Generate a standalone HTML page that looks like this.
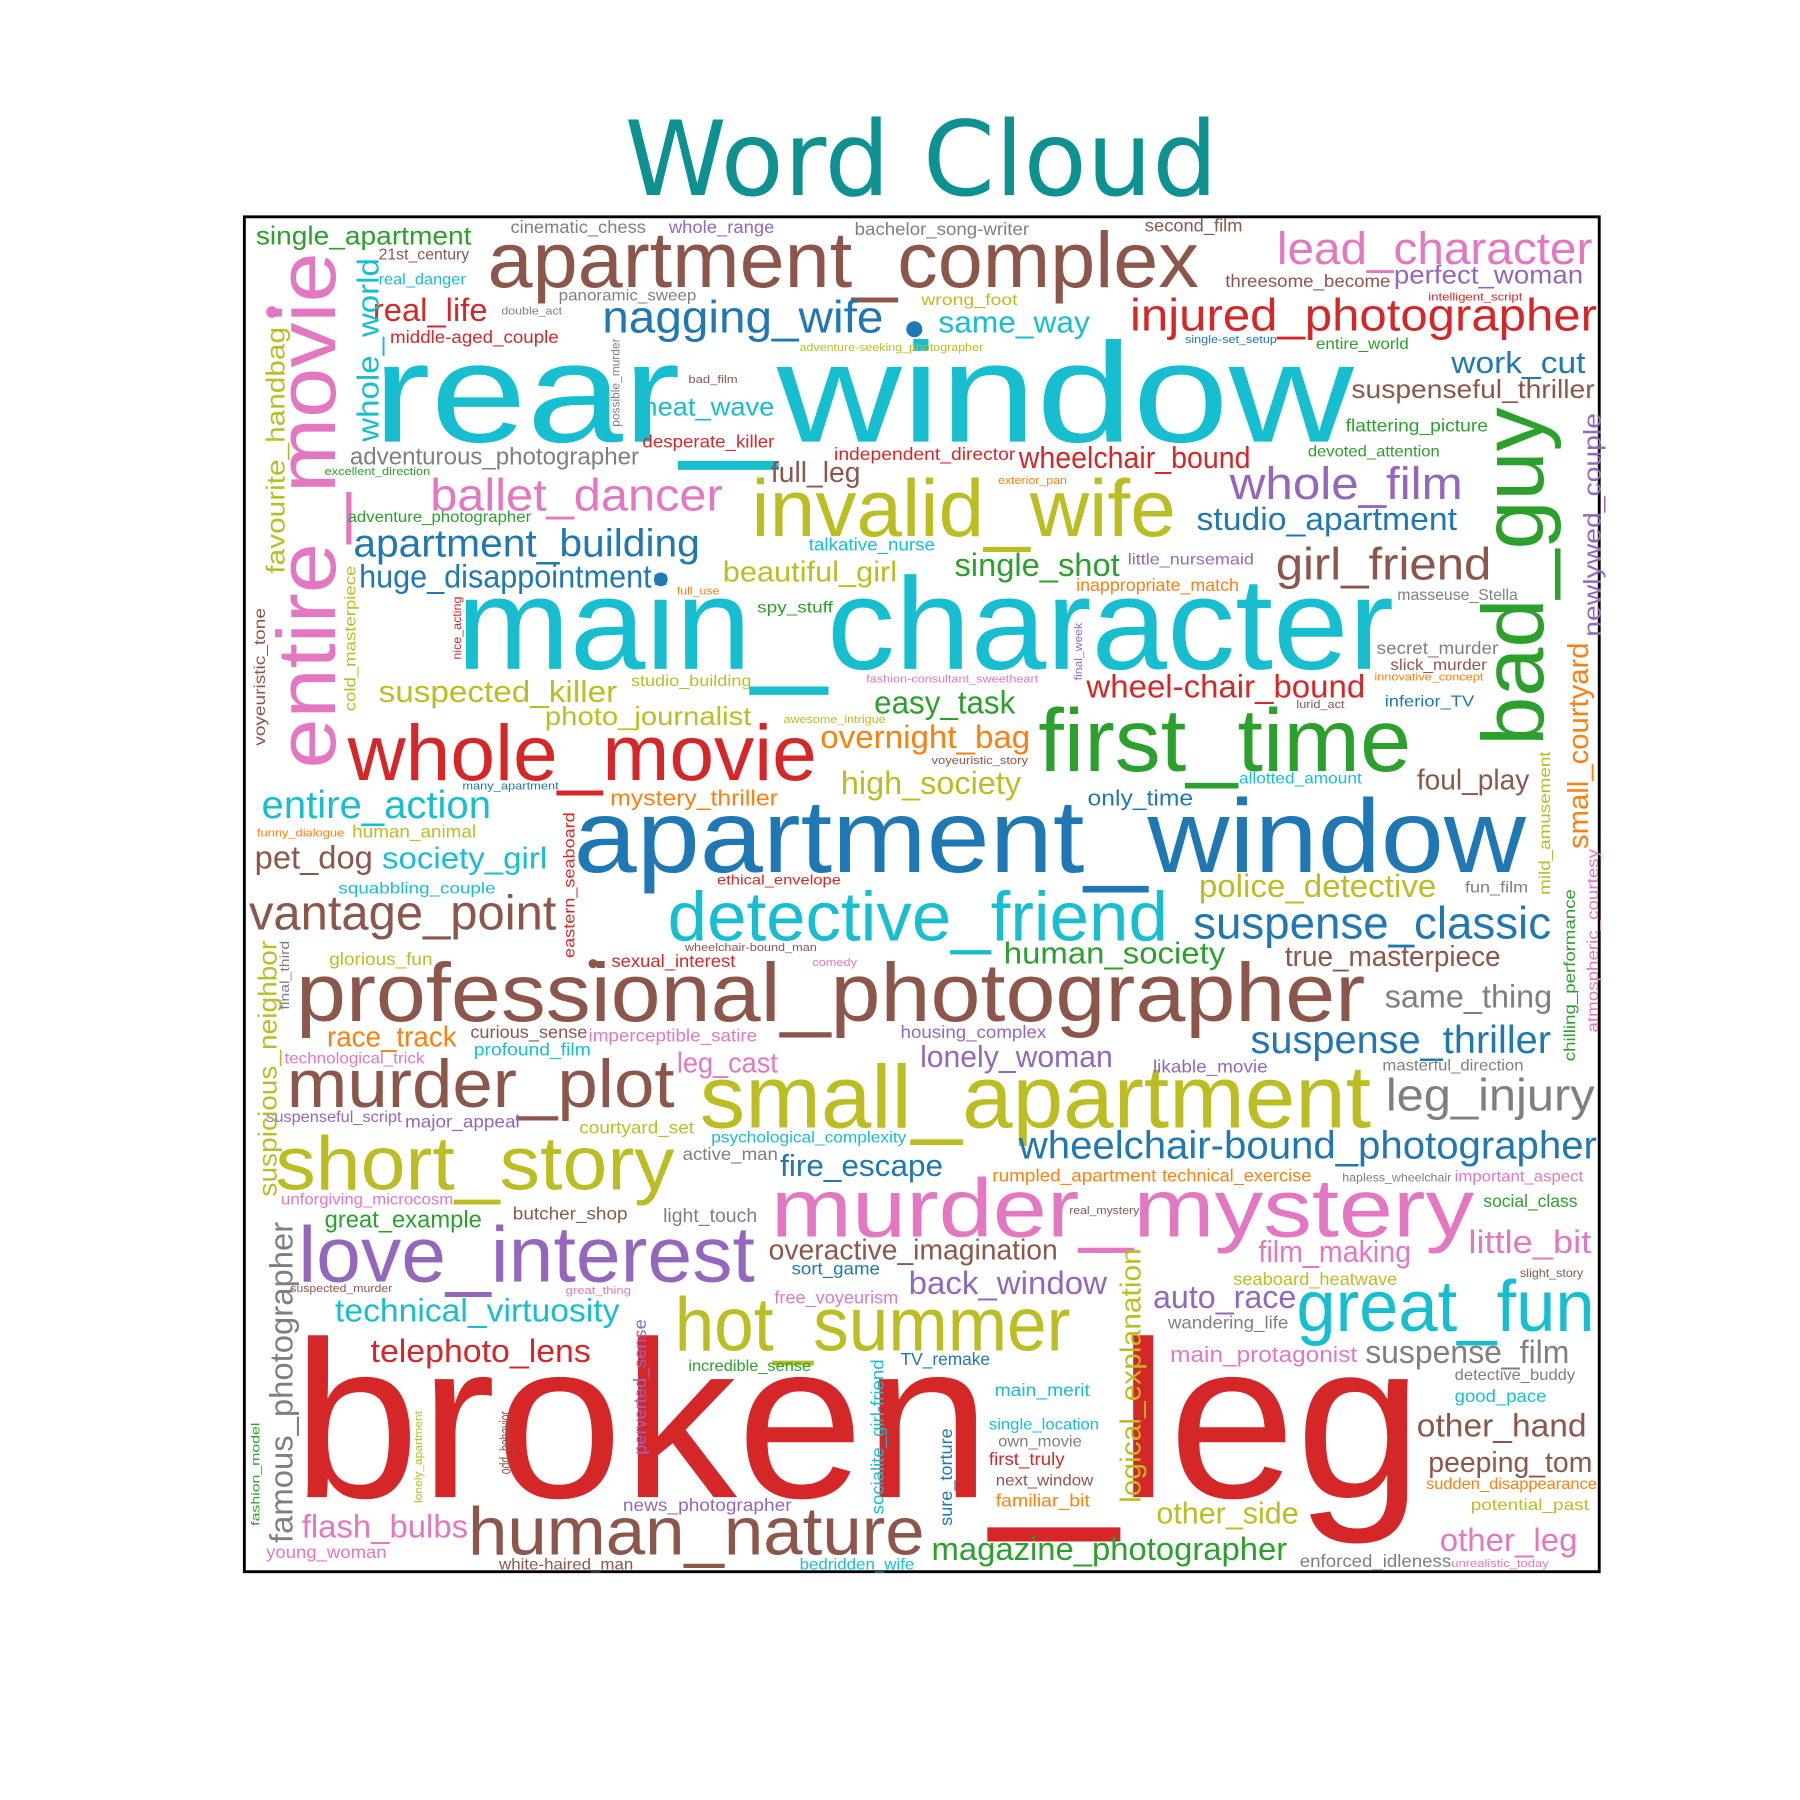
<!DOCTYPE html>
<html><head><meta charset="utf-8"><style>
html,body{margin:0;padding:0;background:#fff;}
svg{display:block;}
text{font-family:"Liberation Sans",sans-serif;}
</style></head>
<body>
<svg id="chart" width="1800" height="1800" viewBox="0 0 1569 1569" xmlns="http://www.w3.org/2000/svg">
<rect x="0" y="0" width="1569" height="1569" fill="#fff"/>
<text x="803" y="170" text-anchor="middle" font-size="90" fill="#0e9191" style="font-family:'DejaVu Sans',sans-serif">Word Cloud</text>
<rect x="213" y="189" width="1181" height="1181" fill="none" stroke="#000" stroke-width="2.5"/>
<g id="words"></g>
<circle cx="797" cy="287" r="7" fill="#1f77b4"/>
<circle cx="237" cy="272" r="5" fill="#e377c2"/>
<circle cx="517" cy="840" r="4" fill="#8c564b"/>
<circle cx="576" cy="505" r="6" fill="#1f77b4"/>
</svg>
<script>
const palette = {b:'#1f77b4',o:'#ff7f0e',g:'#2ca02c',r:'#d62728',p:'#9467bd',n:'#8c564b',k:'#e377c2',y:'#7f7f7f',l:'#bcbd22',c:'#17becf'};
const words = ["rear_window","main_character","broken_leg","apartment_window","professional_photographer","small_apartment","murder_mystery","apartment_complex","first_time","whole_movie","invalid_wife","detective_friend","short_story","love_interest","hot_summer","great_fun","murder_plot","human_nature","bad_guy","entire_movie","lead_character","injured_photographer","nagging_wife","whole_film","girl_friend","ballet_dancer","apartment_building","huge_disappointment","suspense_classic","suspense_thriller","vantage_point","wheelchair-bound_photographer","leg_injury","entire_action","single_shot","studio_apartment","wheelchair_bound","wheel-chair_bound","easy_task","overnight_bag","high_society","foul_play","police_detective","human_society","true_masterpiece","same_thing","lonely_woman","fire_escape","overactive_imagination","back_window","auto_race","film_making","little_bit","suspense_film","other_hand","peeping_tom","other_leg","magazine_photographer","other_side","telephoto_lens","technical_virtuosity","great_example","flash_bulbs","race_track","leg_cast","suspected_killer","photo_journalist","pet_dog","society_girl","real_life","single_apartment","same_way","heat_wave","full_leg","beautiful_girl","work_cut","suspenseful_thriller","perfect_woman","adventurous_photographer","mystery_thriller","main_protagonist","seaboard_heatwave","wandering_life","rumpled_apartment","technical_exercise","important_aspect","hapless_wheelchair","social_class","slight_story","detective_buddy","good_pace","sudden_disappearance","potential_past","enforced_idleness","unrealistic_today","masterful_direction","likable_movie","housing_complex","curious_sense","imperceptible_satire","profound_film","technological_trick","suspenseful_script","major_appeal","courtyard_set","psychological_complexity","active_man","unforgiving_microcosm","butcher_shop","light_touch","sort_game","free_voyeurism","great_thing","suspected_murder","real_mystery","incredible_sense","TV_remake","main_merit","single_location","own_movie","first_truly","next_window","familiar_bit","news_photographer","young_woman","white-haired_man","bedridden_wife","fashion_model","famous_photographer","lonely_apartment","odd_behavior","perverted_sense","socialite_girl-friend","sure_torture","logical_explanation","suspicious_neighbor","final_third","eastern_seaboard","voyeuristic_tone","favourite_handbag","whole_world","cold_masterpiece","nice_acting","possible_murder","final_week","newlywed_couple","small_courtyard","mild_amusement","atmospheric_courtesy","chilling_performance","fun_film","only_time","allotted_amount","inferior_TV","lurid_act","innovative_concept","slick_murder","secret_murder","masseuse_Stella","little_nursemaid","inappropriate_match","talkative_nurse","spy_stuff","full_use","studio_building","fashion-consultant_sweetheart","awesome_intrigue","voyeuristic_story","many_apartment","funny_dialogue","human_animal","squabbling_couple","ethical_envelope","glorious_fun","sexual_interest","wheelchair-bound_man","comedy","independent_director","exterior_pan","devoted_attention","flattering_picture","desperate_killer","bad_film","excellent_direction","adventure_photographer","middle-aged_couple","real_danger","21st_century","double_act","panoramic_sweep","cinematic_chess","whole_range","bachelor_song-writer","second_film","wrong_foot","adventure-seeking_photographer","threesome_become","intelligent_script","single-set_setup","entire_world"];
const sizes = [130,120,205,95,76,82,76,72,82,72,74,64,70,72,70,66,62,62,80,76,42,42,42,42,42,42,36,30,42,36,45,36,42,36,30,30,28,30,30,30,30,26,30,28,26,30,28,28,26,30,30,28,30,30,30,26,30,30,28,30,30,22,30,26,26,28,24,30,28,30,24,28,24,26,26,28,24,24,22,20,20,16,16,16,16,14,11,16,11,14,16,14,14,16,10,14,16,16,16,16,16,14,14,16,16,14,16,14,16,18,16,16,10,10,10,14,16,16,14,14,16,14,16,16,16,14,14,11,30,10,14,16,16,16,26,24,12,14,14,24,28,14,11,11,10,22,26,14,14,14,14,20,14,14,10,10,14,16,14,14,16,16,14,10,14,10,10,10,10,10,16,14,13,16,16,10,10,16,10,14,16,16,10,10,14,16,14,14,10,14,16,16,16,16,14,10,16,10,10,14];
const colors = [
 'c','c','r','b','n','l','k','n','g','r',
 'l','c','l','p','l','c','n','n','g','k',
 'k','r','b','p','n','k','b','b','b','b',
 'n','b','y','c','g','b','r','r','g','o',
 'l','n','l','g','n','y','p','b','n','p',
 'p','k','k','y','n','n','k','g','l','r',
 'c','g','k','o','k','l','l','n','c','r',
 'g','c','c','n','l','b','n','p','y','o',
 'k','l','y','o','o','k','y','g','n','y',
 'c','o','l','y','k','y','p','p','n','k',
 'c','k','p','p','l','c','y','k','n','y',
 'b','k','k','n','n','g','b','c','c','y',
 'r','n','o','p','k','n','c','g','y','l',
 'n','p','c','b','l','l','y','r','n','l',
 'c','l','r','y','p','p','o','l','k','g',
 'y','b','c','b','n','o','n','y','y','p',
 'o','c','g','o','l','k','l','n','b','o',
 'l','c','r','l','r','n','k','r','o','g',
 'g','r','n','g','g','r','c','n','y','y',
 'y','p','y','n','l','l','n','r','b','g'];
const layout = [[325,385,855,0],[398,583,817,0],[255,1305,985,0],[500,760,830,0],[258,890,932,0],[610,983,585,0],[672,1078,613,0],[425,250,620,0],[905,672,325,0],[303,680,409,0],[655,467,370,0],[582,820,436,0],[240,1037,348,0],[260,1117,398,0],[588,1177,345,0],[1130,1160,260,0],[250,965,338,0],[408,1355,398,0],[1345,650,295,1],[292,670,450,1],[1113,230,275,0],[985,288,407,0],[525,290,245,0],[1072,435,203,0],[1112,505,188,0],[375,445,255,0],[308,485,302,0],[313,512,255,0],[1040,818,312,0],[1090,918,262,0],[217,810,268,0],[888,1010,504,0],[1208,968,182,0],[228,713,200,0],[832,502,144,0],[1043,462,227,0],[888,408,202,0],[947,608,243,0],[762,622,123,0],[715,652,183,0],[733,692,157,0],[1235,688,98,0],[1045,782,207,0],[875,840,193,0],[1120,842,188,0],[1207,878,146,0],[802,930,168,0],[680,1025,142,0],[670,1098,252,0],[792,1128,173,0],[1005,1140,125,0],[1097,1100,133,0],[1280,1092,107,0],[1190,1188,178,0],[1235,1252,148,0],[1245,1283,143,0],[1255,1352,120,0],[812,1360,310,0],[1008,1328,124,0],[323,1187,192,0],[292,1152,248,0],[283,1070,137,0],[263,1340,145,0],[285,912,113,0],[590,935,88,0],[330,612,208,0],[475,632,180,0],[222,757,103,0],[333,757,144,0],[325,280,100,0],[223,213,188,0],[818,290,132,0],[560,362,115,0],[672,420,78,0],[630,507,152,0],[1265,325,117,0],[1178,347,212,0],[1215,247,165,0],[305,405,252,0],[532,702,146,0],[1020,1187,163,0],[1075,1120,143,0],[1018,1158,105,0],[865,1030,143,0],[1013,1030,130,0],[1268,1030,112,0],[1170,1030,95,0],[1293,1052,82,0],[1325,1113,55,0],[1268,1203,105,0],[1268,1222,80,0],[1243,1298,149,0],[1282,1316,103,0],[1133,1366,132,0],[1265,1366,85,0],[1205,933,123,0],[1005,935,100,0],[785,905,127,0],[410,905,102,0],[513,908,147,0],[413,920,102,0],[248,927,122,0],[232,978,118,0],[353,983,100,0],[505,988,100,0],[620,996,170,0],[595,1011,83,0],[245,1050,150,0],[447,1063,100,0],[578,1065,82,0],[690,1111,77,0],[675,1136,108,0],[493,1128,57,0],[253,1126,89,0],[932,1058,61,0],[600,1195,107,0],[785,1190,78,0],[867,1217,83,0],[862,1246,96,0],[870,1261,73,0],[862,1277,66,0],[868,1295,85,0],[868,1313,82,0],[543,1317,147,0],[232,1358,105,0],[435,1368,117,0],[697,1368,100,0],[226,1330,90,1],[255,1345,280,1],[368,1310,80,1],[445,1285,55,1],[563,1268,118,1],[770,1320,135,1],[830,1330,85,1],[994,1310,222,1],[241,1043,223,1],[252,880,60,1],[501,835,127,1],[231,650,120,1],[248,500,215,1],[330,385,160,1],[310,620,127,1],[402,575,55,1],[540,372,77,1],[943,593,50,1],[1395,555,195,1],[1384,740,180,1],[1351,780,125,1],[1393,900,160,1],[1373,925,150,1],[1277,778,55,0],[948,702,92,0],[1080,683,107,0],[1207,616,78,0],[1130,617,42,0],[1198,593,95,0],[1212,584,84,0],[1200,570,106,0],[1218,523,105,0],[983,492,110,0],[938,515,142,0],[705,480,110,0],[660,534,66,0],[590,518,37,0],[550,598,105,0],[755,595,150,0],[683,630,89,0],[812,666,84,0],[403,688,84,0],[224,729,76,0],[307,730,108,0],[295,779,137,0],[625,771,108,0],[287,841,90,0],[533,843,108,0],[597,829,115,0],[708,842,39,0],[727,401,158,0],[870,422,60,0],[1140,398,115,0],[1173,376,124,0],[560,390,115,0],[600,334,43,0],[283,414,92,0],[303,455,160,0],[340,299,147,0],[330,248,76,0],[330,226,79,0],[437,274,53,0],[487,262,120,0],[445,203,118,0],[583,203,92,0],[745,205,152,0],[998,202,85,0],[803,266,84,0],[697,306,160,0],[1068,250,144,0],[1245,262,82,0],[1033,299,80,0],[1147,304,81,0]];
const NS = 'http://www.w3.org/2000/svg';
const g = document.getElementById('words');
for (let i = 0; i < words.length; i++) {
  const [x, y, len, rot] = layout[i];
  const t = document.createElementNS(NS, 'text');
  
  
  t.setAttribute('x', x);
  t.setAttribute('y', y);
  t.setAttribute('font-size', sizes[i] * 0.95);
  t.setAttribute('fill', palette[colors[i]] || '#7f7f7f');
  t.setAttribute('textLength', len);
  t.setAttribute('lengthAdjust', 'spacingAndGlyphs');
  if (rot) t.setAttribute('transform', 'rotate(-90 ' + x + ' ' + y + ')');
  t.textContent = words[i];
  g.appendChild(t);
}
</script>
</body></html>
